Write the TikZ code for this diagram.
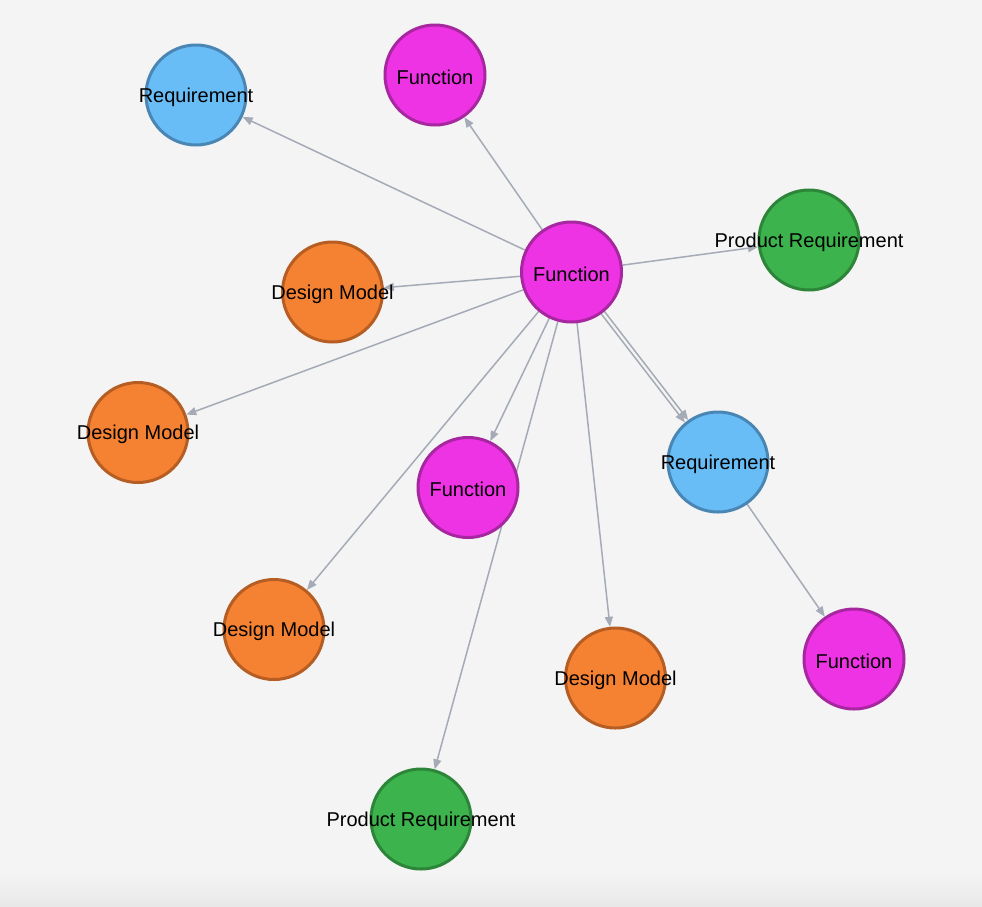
\documentclass[tikz,border=0pt]{standalone}
\usepackage{fontspec}
\setmainfont{Liberation Sans}
\usepackage{tikz}
\usetikzlibrary{arrows.meta}
\usetikzlibrary{backgrounds}

\definecolor{bgcol}{HTML}{F4F4F4}
\definecolor{relcol}{HTML}{A5ABB6}
\definecolor{funcfill}{HTML}{EE33E5}
\definecolor{funcdraw}{HTML}{A6279F}
\definecolor{reqfill}{HTML}{68BDF6}
\definecolor{reqdraw}{HTML}{4A86B4}
\definecolor{prodfill}{HTML}{3DB34D}
\definecolor{proddraw}{HTML}{2C8538}
\definecolor{designfill}{HTML}{F58232}
\definecolor{designdraw}{HTML}{B65D24}

\tikzset{
	entity/.style = {draw, circle, line width = 3pt, minimum size = 100pt, inner sep = 0pt},
	func/.style = {entity, fill = funcfill, draw = funcdraw},
	req/.style = {entity, fill = reqfill, draw = reqdraw},
	prodreq/.style = {entity, fill = prodfill, draw = proddraw},
	design/.style = {entity, fill = designfill, draw = designdraw},
	lbl/.style = {font = \fontsize{20}{24}\selectfont, inner sep = 0pt, yshift = -2pt},
	rel/.style = {draw = relcol, line width = 1.5pt, -{Triangle[length = 10pt, width = 8pt]}}
}

\begin{document}
\begin{tikzpicture}[x = 1pt, y = -1pt]
		\useasboundingbox (0, 0) rectangle (982, 906);

		\node[func, label = {[lbl]center:Function}] (1) at (571.5, 272) {};
		\node[req, label = {[lbl]center:Requirement}] (2) at (196, 95) {};
		\node[func, label = {[lbl]center:Function}] (3) at (435, 75) {};
		\node[prodreq, label = {[lbl]center:Product Requirement}] (4) at (809, 240) {};
		\node[design, label = {[lbl]center:Design Model}] (5) at (332.5, 292) {};
		\node[design, label = {[lbl]center:Design Model}] (6) at (138, 432.5) {};
		\node[func, label = {[lbl]center:Function}] (7) at (468, 487.5) {};
		\node[req, label = {[lbl]center:Requirement}] (8) at (718, 462) {};
		\node[design, label = {[lbl]center:Design Model}] (9) at (274, 629.5) {};
		\node[design, label = {[lbl]center:Design Model}] (10) at (615.5, 678) {};
		\node[func, label = {[lbl]center:Function}] (11) at (854, 659) {};
		\node[prodreq, label = {[lbl]center:Product Requirement}] (12) at (421, 819) {};

		\begin{scope}[on background layer]
		\fill[bgcol] (0, 0) rectangle (982, 906);
		\shade[top color = bgcol, bottom color = black!9] (0, 872) rectangle (982, 906);

		\path[rel] (1) -- (2);
		\path[rel] (1) -- (3);
		\path[rel] (1) -- (4);
		\path[rel] (1) -- (5);
		\path[rel] (1) -- (6);
		\path[rel] (1) -- (7);
		\path[rel] (1) -- (9);
		\path[rel] (1) -- (10);
		\path[rel] (1) -- (12);
		\path[rel, transform canvas = {shift = {(1.6pt, 1.2pt)}}] (1) -- (8);
		\path[rel, transform canvas = {shift = {(-1.6pt, -1.2pt)}}] (1) -- (8);
		\path[rel] (8) -- (11);
		\end{scope}
\end{tikzpicture}
\end{document}
